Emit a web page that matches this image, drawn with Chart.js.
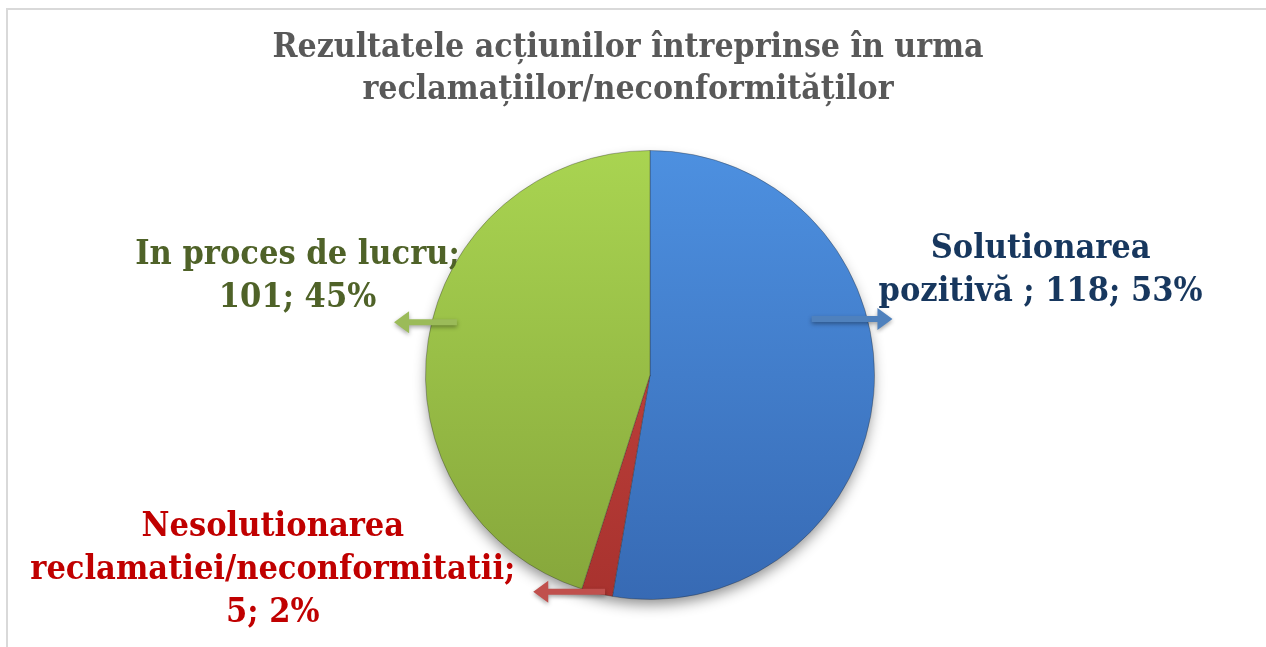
<!DOCTYPE html>
<html>
<head>
<meta charset="utf-8">
<script src="https://cdn.jsdelivr.net/npm/chart.js@4.4.1/dist/chart.umd.min.js"></script>
<style>
  html, body { margin: 0; padding: 0; background: #fff; }
  #wrap { width: 1266px; height: 647px; position: relative; }
</style>
</head>
<body>
<div id="wrap"><canvas id="graficoPie"></canvas></div>
<script>
const titlu = ["Rezultatele acțiunilor întreprinse în urma", "reclamațiilor/neconformităților"];
const categorii = ["Solutionarea pozitivă ", "Nesolutionarea reclamatiei/neconformitatii", "In proces de lucru"];
const valori = [118, 5, 101];
const procente = ["53%", "2%", "45%"];

// culori: [sus, jos] pentru gradient, sageata, text
const culoriSus = ["#4d90e0", "#cc4a44", "#a9d451"];
const culoriJos = ["#376ab4", "#a8322e", "#86a63b"];
const culoriSageata = ["#4f81bd", "#c0504d", "#9bbb59"];
const culoriText = ["#17375e", "#c00000", "#4f6228"];

const FONT = "'DejaVu Serif Condensed', 'DejaVu Serif', serif";

// randurile etichetelor (textul vine din categorii / valori / procente)
function randuriEticheta(i) {
    const txt = categorii[i] + "; " + valori[i] + "; " + procente[i];
    if (i === 0) return ["Solutionarea", txt.replace("Solutionarea ", "")];
    if (i === 1) return ["Nesolutionarea", "reclamatiei/neconformitatii;", valori[i] + "; " + procente[i]];
    return [categorii[i] + ";", valori[i] + "; " + procente[i]];
}

// pozitii relative la centrul si raza placintei (in unitati de raza)
const etichete = [
    { sageata: [0.72, -0.25, 1.08], text: [1.74, -0.56] },
    { sageata: [-0.20, 0.965, -0.52], text: [-1.68, 0.68] },
    { sageata: [-0.86, -0.235, -1.14], text: [-1.57, -0.535] },
];

function gradient(context) {
    const chart = context.chart;
    const area = chart.chartArea;
    if (!area) return culoriSus[context.dataIndex];
    const g = chart.ctx.createLinearGradient(0, area.top, 0, area.bottom);
    g.addColorStop(0, culoriSus[context.dataIndex]);
    g.addColorStop(1, culoriJos[context.dataIndex]);
    return g;
}

function sageata(ctx, x0, y, x1, culoare) {
    const dir = Math.sign(x1 - x0);
    const lungCap = 15;
    ctx.save();
    ctx.fillStyle = culoare;
    ctx.shadowColor = "rgba(0,0,0,0.35)";
    ctx.shadowBlur = 4;
    ctx.shadowOffsetY = 2;
    ctx.beginPath();
    ctx.moveTo(x0, y - 3);
    ctx.lineTo(x1 - dir * lungCap, y - 3);
    ctx.lineTo(x1 - dir * lungCap, y - 11);
    ctx.lineTo(x1, y);
    ctx.lineTo(x1 - dir * lungCap, y + 11);
    ctx.lineTo(x1 - dir * lungCap, y + 3);
    ctx.lineTo(x0, y + 3);
    ctx.closePath();
    ctx.fill();
    ctx.restore();
}

const pluginUmbra = {
    id: "umbra",
    beforeDatasetsDraw(chart) {
        const arc = chart.getDatasetMeta(0).data[0];
        if (!arc) return;
        const { x, y, outerRadius } = arc.getProps(["x", "y", "outerRadius"], true);
        const ctx = chart.ctx;
        ctx.save();
        ctx.shadowColor = "rgba(0,0,0,0.45)";
        ctx.shadowBlur = 14;
        ctx.shadowOffsetY = 7;
        ctx.fillStyle = "#fff";
        ctx.beginPath();
        ctx.arc(x, y, outerRadius - 2, 0, Math.PI * 2);
        ctx.fill();
        ctx.restore();
    },
};

const pluginEtichete = {
    id: "etichete",
    afterDraw(chart) {
        const ctx = chart.ctx;
        const meta = chart.getDatasetMeta(0);
        const { x: cx, y: cy, outerRadius: r } = meta.data[0].getProps(["x", "y", "outerRadius"], true);

        // titlu
        ctx.save();
        ctx.fillStyle = "#595959";
        ctx.font = "bold 33.5px " + FONT;
        ctx.textAlign = "center";
        ctx.textBaseline = "middle";
        titlu.forEach((t, k) => ctx.fillText(t, 628, 48 + k * 42));
        ctx.restore();

        // rama
        ctx.save();
        ctx.strokeStyle = "#d9d9d9";
        ctx.lineWidth = 2;
        ctx.beginPath();
        ctx.moveTo(7, 647);
        ctx.lineTo(7, 9);
        ctx.lineTo(1266, 9);
        ctx.stroke();
        ctx.restore();

        etichete.forEach((e, i) => {
            const ys = cy + e.sageata[1] * r;
            sageata(ctx, cx + e.sageata[0] * r, ys, cx + e.sageata[2] * r, culoriSageata[i]);

            const randuri = randuriEticheta(i);
            ctx.save();
            ctx.fillStyle = culoriText[i];
            ctx.font = "bold 34px " + FONT;
            ctx.textAlign = "center";
            ctx.textBaseline = "middle";
            randuri.forEach((t, k) => {
                ctx.fillText(t, cx + e.text[0] * r, cy + e.text[1] * r + k * 43);
            });
            ctx.restore();
        });
    },
};

new Chart(document.getElementById("graficoPie"), {
    type: "pie",
    data: {
        labels: categorii,
        datasets: [
            {
                data: valori,
                backgroundColor: gradient,
                borderColor: "rgba(40,40,40,0.35)",
                borderWidth: 1,
            },
        ],
    },
    options: {
        responsive: true,
        maintainAspectRatio: false,
        animation: false,
        layout: { padding: { left: 424, right: 390, top: 150, bottom: 47 } },
        plugins: {
            legend: { display: false },
            title: { display: false },
            tooltip: { enabled: false },
        },
    },
    plugins: [pluginUmbra, pluginEtichete],
});
</script>
</body>
</html>
